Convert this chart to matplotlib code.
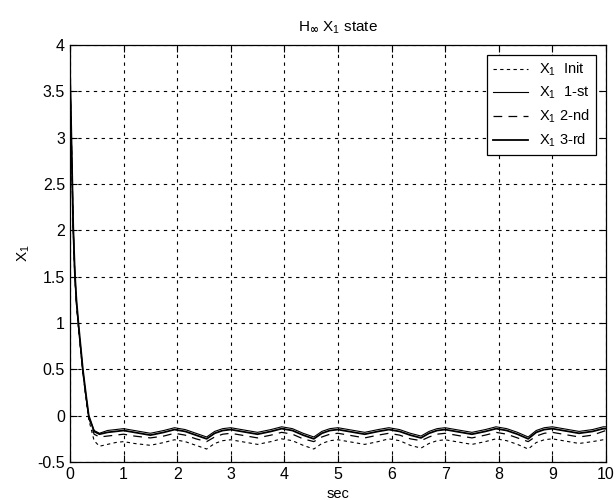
import matplotlib
matplotlib.use('Agg')
import matplotlib.pyplot as plt

plt.rcParams['font.family'] = ['Liberation Sans Narrow', 'Liberation Sans', 'DejaVu Sans']
plt.rcParams['mathtext.fontset'] = 'custom'
plt.rcParams['mathtext.rm'] = 'Liberation Sans'
plt.rcParams['mathtext.it'] = 'Liberation Sans'

# time points (s): fast transient, then the ripple
t_fast = [0, 0.02, 0.04, 0.06, 0.09, 0.12, 0.16, 0.2, 0.24, 0.3, 0.35, 0.45]
t_slow = [0.55, 0.7, 0.85, 1.0, 1.2, 1.5, 1.75, 1.95, 2.15, 2.35,
          2.55, 2.7, 2.85, 3.0, 3.2, 3.5, 3.75, 3.95, 4.15, 4.35,
          4.55, 4.7, 4.85, 5.0, 5.2, 5.5, 5.75, 5.95, 6.15, 6.35,
          6.55, 6.7, 6.85, 7.0, 7.2, 7.5, 7.75, 7.95, 8.15, 8.35,
          8.55, 8.7, 8.85, 9.0, 9.2, 9.5, 9.75, 9.95, 10.0]
t = t_fast + t_slow

x1_init = [3.72, 3.14, 2.58, 2.0, 1.5, 1.2, 0.94, 0.7, 0.46, 0.18, -0.04, -0.27,
           -0.33, -0.31, -0.29, -0.28, -0.30, -0.32, -0.29, -0.26, -0.28, -0.32,
           -0.36, -0.30, -0.27, -0.26, -0.28, -0.31, -0.28, -0.25, -0.27, -0.32,
           -0.36, -0.30, -0.27, -0.26, -0.28, -0.31, -0.28, -0.25, -0.27, -0.32,
           -0.35, -0.30, -0.27, -0.26, -0.28, -0.31, -0.28, -0.25, -0.27, -0.31,
           -0.36, -0.29, -0.26, -0.25, -0.27, -0.30, -0.28, -0.26, -0.26]
x1_1st = [3.72, 3.15, 2.6, 2.02, 1.52, 1.22, 0.95, 0.72, 0.48, 0.2, -0.01, -0.16,
          -0.19, -0.16, -0.15, -0.14, -0.16, -0.19, -0.16, -0.13, -0.15, -0.19,
          -0.23, -0.17, -0.14, -0.13, -0.15, -0.18, -0.15, -0.12, -0.14, -0.19,
          -0.23, -0.17, -0.14, -0.13, -0.15, -0.18, -0.15, -0.13, -0.15, -0.19,
          -0.22, -0.17, -0.14, -0.13, -0.15, -0.18, -0.15, -0.12, -0.14, -0.18,
          -0.23, -0.16, -0.13, -0.12, -0.14, -0.17, -0.15, -0.12, -0.12]
x1_2nd = [3.72, 3.16, 2.6, 2.03, 1.53, 1.22, 0.96, 0.72, 0.48, 0.2, -0.02, -0.2,
          -0.23, -0.22, -0.21, -0.20, -0.22, -0.24, -0.22, -0.19, -0.21, -0.25,
          -0.28, -0.23, -0.20, -0.19, -0.21, -0.24, -0.21, -0.18, -0.20, -0.25,
          -0.28, -0.23, -0.20, -0.19, -0.21, -0.24, -0.21, -0.19, -0.21, -0.25,
          -0.27, -0.23, -0.20, -0.19, -0.21, -0.24, -0.21, -0.18, -0.20, -0.24,
          -0.28, -0.22, -0.19, -0.18, -0.20, -0.23, -0.21, -0.17, -0.16]
x1_3rd = [3.72, 3.18, 2.62, 2.05, 1.55, 1.25, 0.98, 0.74, 0.5, 0.22, 0.0, -0.17,
          -0.20, -0.18, -0.17, -0.16, -0.18, -0.21, -0.18, -0.15, -0.17, -0.21,
          -0.25, -0.19, -0.16, -0.15, -0.17, -0.20, -0.17, -0.14, -0.16, -0.21,
          -0.25, -0.19, -0.16, -0.15, -0.17, -0.20, -0.17, -0.15, -0.17, -0.21,
          -0.24, -0.19, -0.16, -0.15, -0.17, -0.20, -0.17, -0.14, -0.16, -0.20,
          -0.25, -0.18, -0.15, -0.14, -0.16, -0.19, -0.17, -0.14, -0.14]

labels = ['X$_1$  Init', 'X$_1$  1-st', 'X$_1$ 2-nd', 'X$_1$ 3-rd']
xticks = list(range(0, 11))
yticks = [-0.5, 0, 0.5, 1, 1.5, 2, 2.5, 3, 3.5, 4]
ytick_labels = ['-0.5', '0', '0.5', '1', '1.5', '2', '2.5', '3', '3.5', '4']

fig = plt.figure(figsize=(6.16, 5), dpi=100)
ax = fig.add_axes([0.1136, 0.076, 0.870, 0.834])

ax.plot(t, x1_init, color='black', lw=0.8, ls=(0, (3, 3)), label=labels[0])
ax.plot(t, x1_1st, color='black', lw=0.8, ls='-', label=labels[1])
ax.plot(t, x1_2nd, color='black', lw=0.9, ls=(0, (7, 5)), label=labels[2])
ax.plot(t, x1_3rd, color='black', lw=1.3, ls='-', label=labels[3])

ax.set_xlim(0, 10)
ax.set_ylim(-0.5, 4)
ax.set_xticks(xticks)
ax.set_yticks(yticks)
ax.set_yticklabels(ytick_labels)
ax.grid(True, color='black', ls=(0, (3, 4)), lw=0.8)
ax.tick_params(direction='in', top=True, right=True, labelsize=11.5, length=5, width=0.8)
for s in ax.spines.values():
    s.set_linewidth(0.9)

ax.set_title(r'H$_{\mathbf{\infty}}$ X$_1$ state', fontsize=11, pad=10)
ax.set_xlabel('sec', fontsize=10.5, labelpad=4)
ax.set_ylabel('X$_1$', fontsize=11, labelpad=4)

leg = ax.legend(loc='upper right', fontsize=10.5, frameon=True, fancybox=False,
                edgecolor='black', framealpha=1, handlelength=2.4,
                borderaxespad=0.7, labelspacing=0.45)
leg.get_frame().set_linewidth(0.9)

fig.savefig('out.png', dpi=100)
